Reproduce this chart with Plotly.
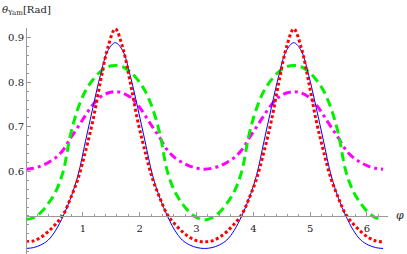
import numpy as np
import plotly.graph_objects as go

# phi sampled at steps of pi/24 from 0 to 2*pi
phi = np.linspace(0, 2 * np.pi, 49)

blue = [0.427, 0.429, 0.435, 0.446, 0.468, 0.500, 0.540, 0.592, 0.668, 0.744, 0.816, 0.871, 0.889,
        0.871, 0.816, 0.744, 0.668, 0.592, 0.540, 0.500, 0.468, 0.446, 0.435, 0.429, 0.427,
        0.429, 0.435, 0.446, 0.468, 0.500, 0.540, 0.592, 0.668, 0.744, 0.816, 0.871, 0.889,
        0.871, 0.816, 0.744, 0.668, 0.592, 0.540, 0.500, 0.468, 0.446, 0.435, 0.429, 0.427]

red = [0.442, 0.444, 0.452, 0.465, 0.482, 0.503, 0.540, 0.584, 0.645, 0.715, 0.801, 0.878, 0.920,
       0.878, 0.801, 0.715, 0.645, 0.584, 0.540, 0.503, 0.482, 0.465, 0.452, 0.444, 0.442,
       0.444, 0.452, 0.465, 0.482, 0.503, 0.540, 0.584, 0.645, 0.715, 0.801, 0.878, 0.920,
       0.878, 0.801, 0.715, 0.645, 0.584, 0.540, 0.503, 0.482, 0.465, 0.452, 0.444, 0.442]

green = [0.492, 0.496, 0.508, 0.528, 0.555, 0.600, 0.684, 0.742, 0.781, 0.806, 0.824, 0.835, 0.838,
         0.835, 0.824, 0.806, 0.781, 0.742, 0.684, 0.600, 0.555, 0.528, 0.508, 0.496, 0.491,
         0.496, 0.508, 0.528, 0.555, 0.600, 0.684, 0.742, 0.781, 0.806, 0.824, 0.835, 0.838,
         0.835, 0.824, 0.806, 0.781, 0.742, 0.684, 0.600, 0.555, 0.528, 0.508, 0.496, 0.492]

magenta = [0.605, 0.607, 0.612, 0.620, 0.631, 0.648, 0.675, 0.700, 0.726, 0.750, 0.767, 0.776, 0.779,
           0.776, 0.767, 0.750, 0.726, 0.700, 0.675, 0.648, 0.631, 0.620, 0.612, 0.607, 0.605,
           0.607, 0.612, 0.620, 0.631, 0.648, 0.675, 0.700, 0.726, 0.750, 0.767, 0.776, 0.779,
           0.776, 0.767, 0.750, 0.726, 0.700, 0.675, 0.648, 0.631, 0.620, 0.612, 0.607, 0.605]

x_ticks = [1, 2, 3, 4, 5, 6]
y_ticks = [0.6, 0.7, 0.8, 0.9]

W, H = 407, 254
x0_px, x1_px = 26, 388
y_top_px = 28
X_RANGE = [0, 6.37]
Y_RANGE = [0.4146, 0.922]
ydom_top = (H - y_top_px) / H
xpos = x0_px / W
ypos = ydom_top * (0.5 - Y_RANGE[0]) / (Y_RANGE[1] - Y_RANGE[0])

fig = go.Figure()
fig.add_trace(go.Scatter(x=phi, y=magenta, mode="lines", line=dict(color="#FF00FF", width=3, dash="8px,4px,3px,4px", shape="spline")))
fig.add_trace(go.Scatter(x=phi, y=green, mode="lines", line=dict(color="#00F000", width=3, dash="9px,5px", shape="spline")))
fig.add_trace(go.Scatter(x=phi, y=blue, mode="lines", line=dict(color="#0000FF", width=1, shape="spline")))
fig.add_trace(go.Scatter(x=phi, y=red, mode="lines", line=dict(color="#FF0000", width=3, dash="3px,2.5px", shape="spline")))

FAMILY = "DejaVu Serif"
font = dict(family=FAMILY, size=10, color="#222222")

fig.update_layout(
    width=W, height=H,
    margin=dict(l=0, r=0, t=0, b=0),
    paper_bgcolor="white", plot_bgcolor="white",
    showlegend=False,
    font=font,
    xaxis=dict(
        domain=[x0_px / W, x1_px / W], range=X_RANGE, anchor="free", position=ypos,
        showgrid=False, zeroline=False, showline=True, linecolor="#999999", linewidth=1,
        tickvals=x_ticks, ticktext=[str(v) for v in x_ticks],
        ticks="inside", ticklen=4, tickcolor="#999999", tickfont=font, ticklabelstandoff=3,
        minor=dict(dtick=0.2, tick0=0, ticks="inside", ticklen=2, tickcolor="#999999"),
    ),
    yaxis=dict(
        domain=[0, ydom_top], range=Y_RANGE, anchor="free", position=xpos,
        showgrid=False, zeroline=False, showline=True, linecolor="#999999", linewidth=1,
        tickvals=y_ticks, ticktext=["0.6", "0.7", "0.8", "0.9"],
        ticks="inside", ticklen=4, tickcolor="#999999", tickfont=font,
        minor=dict(dtick=0.02, tick0=0.5, ticks="inside", ticklen=2, tickcolor="#999999"),
    ),
    annotations=[
        dict(text="<i>θ</i><sub>Yam</sub>[Rad]", xref="paper", yref="paper", x=0.0, y=1.0,
             xanchor="left", yanchor="top", showarrow=False, font=font, yshift=-2),
        dict(text="<i>φ</i>", xref="paper", yref="paper", x=400 / W, y=ypos,
             xanchor="center", yanchor="middle", showarrow=False,
             font=dict(family=FAMILY, size=11, color="#222222")),
    ],
)

fig.write_html("out.html", config={"displayModeBar": False},
               post_script="document.body.style.margin='0';document.body.style.overflow='hidden';")
